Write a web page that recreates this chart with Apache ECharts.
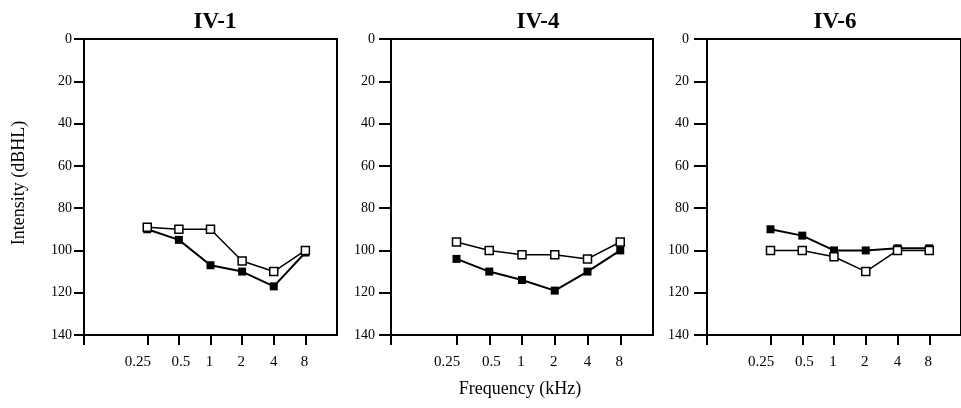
<!DOCTYPE html>
<html>
<head>
<meta charset="utf-8">
<script src="https://cdn.jsdelivr.net/npm/echarts@6/dist/echarts.min.js"></script>
<style>html,body{margin:0;padding:0;background:#fff}#c{width:961px;height:408px}</style>
</head>
<body>
<div id="c"></div>
<script>
// Frequencies (kHz) and tick labels
const freqs = [0.25, 0.5, 1, 2, 4, 8];
const freqLabels = ['0.25', '0.5', '1', '2', '4', '8'];
const intensityTicks = [0, 20, 40, 60, 80, 100, 120, 140];
const panelTitles = ['IV-1', 'IV-4', 'IV-6'];

// Thresholds (dBHL)
const iv1Filled = [90, 95, 107, 110, 117, 101];
const iv1Open   = [89, 90, 90, 105, 110, 100];
const iv4Filled = [104, 110, 114, 119, 110, 100];
const iv4Open   = [96, 100, 102, 102, 104, 96];
const iv6Filled = [90, 93, 100, 100, 99, 99];
const iv6Open   = [100, 100, 103, 110, 100, 100];

const panels = [
  { filled: iv1Filled, open: iv1Open },
  { filled: iv4Filled, open: iv4Open },
  { filled: iv6Filled, open: iv6Open }
];

const grids = [
  { left: 84, top: 39, width: 253, height: 296 },
  { left: 391, top: 39, width: 262, height: 296 },
  { left: 707, top: 39, width: 261, height: 296 }
];
const yTickLen = [10, 12, 13];
const yLabelMargin = [12, 16, 18];
const titleX = [215, 538, 835];

const serif = '"Liberation Serif", "DejaVu Serif", serif';
const logF = freqs.map(f => Math.log2(f));

// per-label horizontal nudges (rich padding) to mimic the spaced typography
const labelPad = [[0, 19, 0, 0], [0, 0, 0, 4], [0, 2, 0, 0], [0, 2, 0, 0], [0, 0, 0, 0], [0, 2, 0, 0]];
const rich = {};
labelPad.forEach((p, k) => { rich['l' + k] = { fontFamily: serif, fontSize: 15, color: '#000', padding: p }; });

const option = {
  animation: false,
  backgroundColor: '#fff',
  title: panelTitles.map((t, i) => ({
    text: t, left: titleX[i], top: 11, textAlign: 'center', padding: 0,
    textStyle: { fontFamily: serif, fontWeight: 'bold', fontSize: 23, color: '#000' }
  })),
  grid: grids.map(g => Object.assign({ show: true, borderColor: '#000', borderWidth: 2, backgroundColor: 'transparent' }, g)),
  xAxis: grids.map((g, i) => ({
    type: 'value', gridIndex: i, min: -4, max: 4, interval: 1, position: 'bottom',
    axisLine: { show: true, onZero: false, lineStyle: { color: '#000', width: 2 } },
    axisTick: { show: true, length: 10, lineStyle: { color: '#000', width: 2 },
      customValues: [-4].concat(logF) },
    axisLabel: { show: true, customValues: logF, margin: 20,
      fontFamily: serif, fontSize: 15, color: '#000', rich: rich,
      formatter: v => { const k = logF.findIndex(x => Math.abs(x - v) < 1e-6); return k >= 0 ? '{l' + k + '|' + freqLabels[k] + '}' : ''; } },
    splitLine: { show: false }
  })),
  yAxis: grids.map((g, i) => ({
    type: 'value', gridIndex: i, min: 0, max: 140, interval: 20, inverse: true, position: 'left',
    axisLine: { show: true, onZero: false, lineStyle: { color: '#000', width: 2 } },
    axisTick: { show: true, length: yTickLen[i], lineStyle: { color: '#000', width: 2 }, customValues: intensityTicks },
    axisLabel: { show: true, margin: yLabelMargin[i], fontFamily: serif, fontSize: 14, color: '#000', customValues: intensityTicks },
    splitLine: { show: false }
  })),
  series: [],
  graphic: [
    { type: 'text', x: 19, y: 183, rotation: Math.PI / 2,
      style: { text: 'Intensity (dBHL)', font: '18px ' + serif, fill: '#000', textAlign: 'center', textVerticalAlign: 'middle' } },
    { type: 'text', x: 520, y: 389,
      style: { text: 'Frequency (kHz)', font: '18px ' + serif, fill: '#000', textAlign: 'center', textVerticalAlign: 'middle' } }
  ]
};

panels.forEach((p, i) => {
  option.series.push({
    type: 'line', xAxisIndex: i, yAxisIndex: i,
    data: logF.map((x, k) => [x, p.filled[k]]),
    symbol: 'rect', symbolSize: 8,
    lineStyle: { color: '#000', width: 2 },
    itemStyle: { color: '#000', borderColor: '#000', borderWidth: 0 },
    z: 3
  });
  option.series.push({
    type: 'line', xAxisIndex: i, yAxisIndex: i,
    data: logF.map((x, k) => [x, p.open[k]]),
    symbol: 'rect', symbolSize: 8, showAllSymbol: true,
    lineStyle: { color: '#000', width: 1.5 },
    itemStyle: { color: '#fff', borderColor: '#000', borderWidth: 1.5 },
    z: 4
  });
});

const chart = echarts.init(document.getElementById('c'), null, { renderer: 'canvas' });
chart.setOption(option);
</script>
</body>
</html>
